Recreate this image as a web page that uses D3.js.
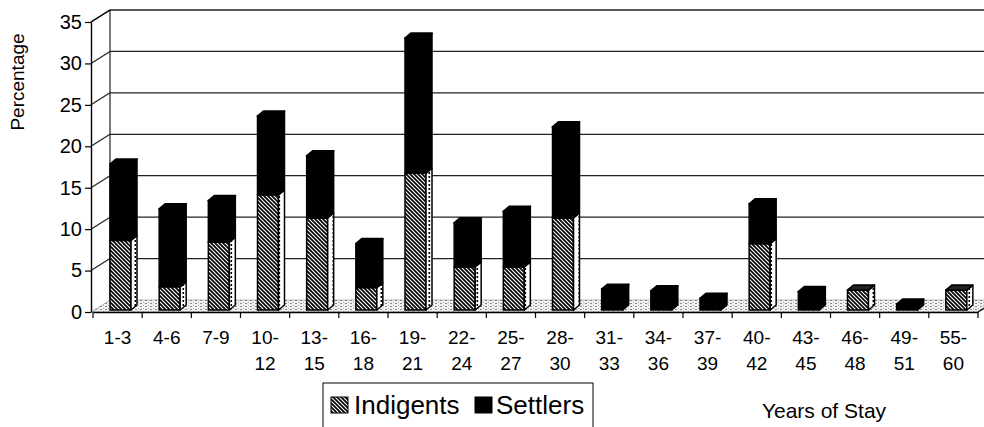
<!DOCTYPE html>
<html>
<head>
<meta charset="utf-8">
<title>Years of Stay</title>
<script src="https://d3js.org/d3.v7.min.js"></script>
<style>
  body { margin: 0; background: #fff; }
  svg { display: block; font-family: "Liberation Sans", Arial, sans-serif; }
</style>
</head>
<body>
<div id="chart"></div>
<script>
// chart data
var categories = ["1-3", "4-6", "7-9", "10-12", "13-15", "16-18", "19-21", "22-24", "25-27",
                  "28-30", "31-33", "34-36", "37-39", "40-42", "43-45", "46-48", "49-51", "55-60"];
var indigents = [8.4, 2.8, 8.2, 13.9, 11.1, 2.7, 16.5, 5.2, 5.2, 11.1, 0, 0, 0, 8.0, 0, 2.4, 0, 2.4];
var settlers  = [9.2, 9.4, 5.0, 9.5, 7.5, 5.3, 16.3, 5.3, 6.7, 11.0, 2.5, 2.3, 1.4, 4.8, 2.2, 0, 0.7, 0];
var yTicks = [0, 5, 10, 15, 20, 25, 30, 35];
var seriesNames = ["Indigents", "Settlers"];

var width = 984, height = 427;

// depth of the 3d box
var depthX = 19, depthY = -12;
// bar 3d offsets
var barDX = 6, barDY = -5, barW = 21;

var svg = d3.select("#chart").append("svg")
    .attr("width", width)
    .attr("height", height);

var defs = svg.append("defs");

// diagonal hatch for Indigents
var hatch = defs.append("pattern")
    .attr("id", "hatch")
    .attr("patternUnits", "userSpaceOnUse")
    .attr("width", 4).attr("height", 4);
hatch.append("rect").attr("width", 4).attr("height", 4).attr("fill", "#fff");
hatch.append("path")
    .attr("d", "M-1,-1L5,5M-1,3L1,5M3,-1L5,1")
    .attr("stroke", "#000").attr("stroke-width", 1.7);

// dotted side of hatched bars
var side = defs.append("pattern")
    .attr("id", "sideDots")
    .attr("patternUnits", "userSpaceOnUse")
    .attr("width", 6).attr("height", 4);
side.append("rect").attr("width", 6).attr("height", 4).attr("fill", "#fff");
side.append("rect").attr("x", 2.5).attr("y", 0).attr("width", 1.6).attr("height", 2).attr("fill", "#000");

// speckled floor
var floorPat = defs.append("pattern")
    .attr("id", "floorDots")
    .attr("patternUnits", "userSpaceOnUse")
    .attr("width", 5).attr("height", 3);
floorPat.append("rect").attr("width", 5).attr("height", 3).attr("fill", "#f2f2f2");
floorPat.append("rect").attr("x", 0).attr("y", 0).attr("width", 2).attr("height", 1).attr("fill", "#888");
floorPat.append("rect").attr("x", 3).attr("y", 2).attr("width", 1).attr("height", 1).attr("fill", "#aaa");

// scales
var x = d3.scaleBand()
    .domain(categories)
    .range([93, 978])
    .padding(0);

var y = d3.scaleLinear()
    .domain([0, 35])
    .range([312, 22]);

var x0 = x.range()[0], x1 = x.range()[1];

// back wall gridlines
svg.append("g").selectAll("line")
    .data(yTicks.filter(function(d) { return d > 0; }))
    .enter().append("line")
    .attr("x1", x0 - 2 + depthX).attr("x2", width)
    .attr("y1", function(d) { return y(d) + depthY; })
    .attr("y2", function(d) { return y(d) + depthY; })
    .attr("stroke", "#222").attr("stroke-width", 1.3);

// side wall gridlines
svg.append("g").selectAll("line")
    .data(yTicks.filter(function(d) { return d > 0; }))
    .enter().append("line")
    .attr("x1", x0 - 2).attr("x2", x0 - 2 + depthX)
    .attr("y1", function(d) { return y(d); })
    .attr("y2", function(d) { return y(d) + depthY; })
    .attr("stroke", "#222").attr("stroke-width", 1.2);

// back wall left edge
svg.append("line")
    .attr("x1", x0 - 2 + depthX).attr("x2", x0 - 2 + depthX)
    .attr("y1", y(35) + depthY).attr("y2", y(0) + depthY)
    .attr("stroke", "#222").attr("stroke-width", 1.2);

// floor
svg.append("path")
    .attr("d", "M" + (x0 - 2) + "," + y(0) + "L" + x1 + "," + y(0) +
               "L" + (x1 + depthX) + "," + (y(0) + depthY) +
               "L" + (x0 - 2 + depthX) + "," + (y(0) + depthY) + "Z")
    .attr("fill", "url(#floorDots)")
    .attr("stroke", "#777").attr("stroke-width", 0.5);

// stacked data
var table = categories.map(function(c, i) {
    return { cat: c, Indigents: indigents[i], Settlers: settlers[i] };
});
var stacked = d3.stack().keys(seriesNames)(table);

// bars sit slightly behind the front edge
var barShiftX = 3, barShiftY = -2;

function barLeft(c) { return x(c) + 14 + barShiftX; }
function yb(v) { return y(v) + barShiftY; }

var bars = svg.append("g");

categories.forEach(function(c, i) {
    var g = bars.append("g");
    var topVal = 0;
    stacked.forEach(function(s, k) {
        var d = s[i];
        if (d[1] - d[0] <= 0) return;
        topVal = d[1];
        var left = barLeft(c), right = left + barW;
        var yTop = yb(d[1]), yBot = yb(d[0]);
        var faceFill = k === 0 ? "url(#hatch)" : "#000";
        var sideFill = k === 0 ? "url(#sideDots)" : "#000";
        g.append("rect")
            .attr("x", left).attr("y", yTop)
            .attr("width", barW).attr("height", yBot - yTop)
            .attr("fill", faceFill)
            .attr("stroke", "#000").attr("stroke-width", 1.5);
        g.append("path")
            .attr("d", "M" + right + "," + yBot + "L" + right + "," + yTop +
                       "L" + (right + barDX) + "," + (yTop + barDY) +
                       "L" + (right + barDX) + "," + (yBot + barDY) + "Z")
            .attr("fill", sideFill)
            .attr("stroke", "#000").attr("stroke-width", 1.5)
            .attr("stroke-linejoin", "round");
    });
    if (topVal > 0) {
        var left = barLeft(c);
        var yTop = yb(topVal);
        var topSeries = settlers[i] > 0 ? 1 : 0;
        g.append("path")
            .attr("d", "M" + left + "," + yTop + "L" + (left + barW) + "," + yTop +
                       "L" + (left + barW + barDX) + "," + (yTop + barDY) +
                       "L" + (left + barDX) + "," + (yTop + barDY) + "Z")
            .attr("fill", topSeries === 1 ? "#000" : "#222")
            .attr("stroke", "#000").attr("stroke-width", 1.8)
            .attr("stroke-linejoin", "round");
    }
});

// y axis
var yAxis = svg.append("g")
    .attr("transform", "translate(" + (x0 - 2) + ",0)")
    .call(d3.axisLeft(y).tickValues(yTicks).tickSize(6).tickPadding(3).tickSizeOuter(0));
yAxis.select(".domain").attr("stroke", "#000").attr("stroke-width", 1.4);
yAxis.selectAll(".tick line").attr("stroke", "#000").attr("stroke-width", 1.2);
yAxis.selectAll("text")
    .attr("font-size", 20)
    .attr("fill", "#000")
    .attr("font-family", "'Liberation Sans', Arial, sans-serif");

// side wall top edge
svg.append("line")
    .attr("x1", x0 - 2).attr("y1", y(35))
    .attr("x2", x0 - 2 + depthX).attr("y2", y(35) + depthY)
    .attr("stroke", "#000").attr("stroke-width", 1.2);

// x axis
var xAxis = svg.append("g")
    .attr("transform", "translate(0," + y(0) + ")")
    .call(d3.axisBottom(x).tickSize(0).tickPadding(19).tickSizeOuter(0));
xAxis.select(".domain").attr("stroke", "#000").attr("stroke-width", 1.4);
xAxis.selectAll(".tick text").each(function(d) {
    var t = d3.select(this);
    var parts = d.split("-");
    t.text(null)
        .attr("font-size", 19)
        .attr("fill", "#000")
        .attr("font-family", "'Liberation Sans', Arial, sans-serif");
    if (parts[0].length > 1) {
        t.append("tspan").attr("x", 0).attr("dy", "0.71em").text(parts[0] + "-");
        t.append("tspan").attr("x", 0).attr("dy", "1.35em").text(parts[1]);
    } else {
        t.append("tspan").attr("x", 0).attr("dy", "0.71em").text(d);
    }
});

// band boundary ticks
svg.append("g").selectAll("line")
    .data(categories.concat(["end"]))
    .enter().append("line")
    .attr("x1", function(d, i) { return x0 + i * x.bandwidth(); })
    .attr("x2", function(d, i) { return x0 + i * x.bandwidth(); })
    .attr("y1", y(0)).attr("y2", y(0) + 6)
    .attr("stroke", "#000").attr("stroke-width", 1.2);

// floor right edge
svg.append("line")
    .attr("x1", x1).attr("y1", y(0))
    .attr("x2", x1 + depthX).attr("y2", y(0) + depthY)
    .attr("stroke", "#000").attr("stroke-width", 1.2);

// axis titles
svg.append("text")
    .attr("transform", "translate(24,82) rotate(-90)")
    .attr("text-anchor", "middle")
    .attr("font-size", 19)
    .text("Percentage");

svg.append("text")
    .attr("x", 824).attr("y", 418)
    .attr("text-anchor", "middle")
    .attr("font-size", 21)
    .text("Years of Stay");

// legend
var legend = svg.append("g");
legend.append("rect")
    .attr("x", 323).attr("y", 383)
    .attr("width", 270).attr("height", 60)
    .attr("fill", "#fff")
    .attr("stroke", "#000").attr("stroke-width", 1);

var legendItems = [
    { name: seriesNames[0], fill: "url(#hatch)", sx: 331, tx: 354 },
    { name: seriesNames[1], fill: "#000", sx: 475, tx: 496 }
];
legendItems.forEach(function(it) {
    legend.append("rect")
        .attr("x", it.sx).attr("y", 397)
        .attr("width", 17).attr("height", 16)
        .attr("fill", it.fill)
        .attr("stroke", "#000").attr("stroke-width", 1);
    legend.append("text")
        .attr("x", it.tx).attr("y", 414)
        .attr("font-size", 26)
        .text(it.name);
});
</script>
</body>
</html>
